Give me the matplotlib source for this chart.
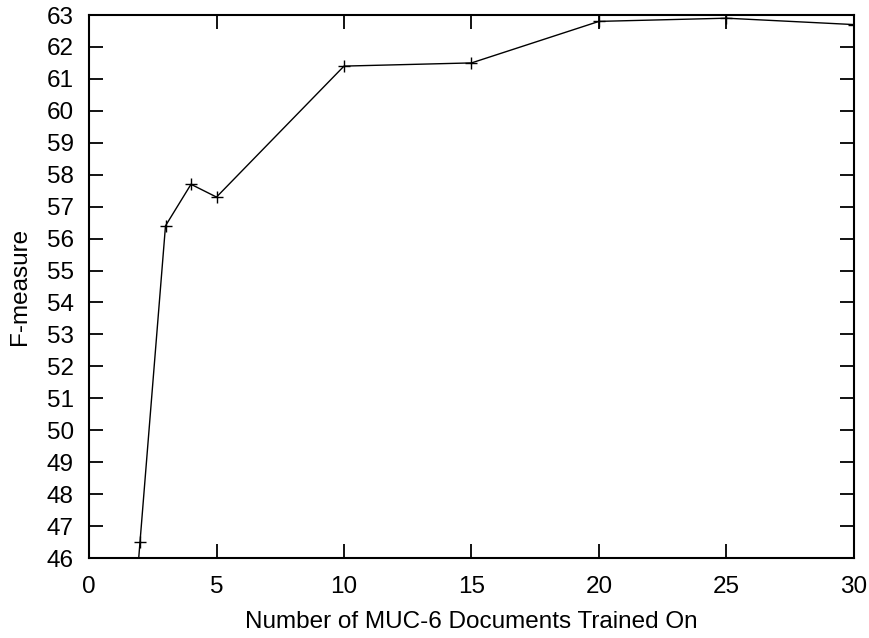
import matplotlib
matplotlib.use("Agg")
import matplotlib.pyplot as plt

plt.rcParams['font.family'] = ['Liberation Sans', 'DejaVu Sans']

# documents trained on vs F-measure (first point lies below the visible range)
docs = [1, 2, 3, 4, 5, 10, 15, 20, 25, 30]
fmeasure = [36.5, 46.5, 56.4, 57.7, 57.3, 61.4, 61.5, 62.8, 62.9, 62.7]

fig = plt.figure(figsize=(8.70, 6.38), dpi=100)
ax = fig.add_axes([89 / 870, 1 - 558 / 638, (854 - 89) / 870, (558 - 15) / 638])

ax.plot(docs, fmeasure, color='black', linewidth=1.0, marker='+',
        markersize=9, markeredgewidth=1.0)

ax.set_xlim(0, 30)
ax.set_ylim(46, 63)
ax.set_xticks(range(0, 31, 5))
ax.set_yticks(range(46, 64))

ax.tick_params(direction='in', length=10, width=1.3, top=True, right=True,
               labelsize=17.5)
ax.tick_params(axis='x', pad=13)
ax.tick_params(axis='y', pad=11)
for s in ax.spines.values():
    s.set_linewidth(1.5)

ax.set_xlabel('Number of MUC-6 Documents Trained On', fontsize=17.5, labelpad=9)
ax.set_ylabel('F-measure', fontsize=17.5, labelpad=11)

fig.savefig('out.png', dpi=100)
